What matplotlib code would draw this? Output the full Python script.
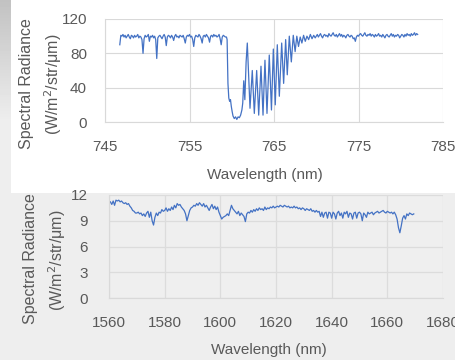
import numpy as np
import matplotlib
matplotlib.use("Agg")
import matplotlib.pyplot as plt
from matplotlib.patches import Rectangle

# ---------------- O2 A-band spectrum (upper panel) ----------------
# continuum left of the band, sampled every 0.125 nm from 746.75 nm
a_left_start = 746.75
a_left_vals = [
    90, 101, 100, 102, 99, 101, 98, 100, 102, 99,
    97, 101, 100, 98, 101, 99, 100, 102, 98, 100,
    99, 96, 80, 97, 101, 99, 100, 102, 94, 100,
    99, 101, 98, 100, 96, 74, 98, 100, 101, 99,
    97, 100, 102, 99, 89, 99, 101, 100, 98, 101,
    99, 95, 100, 102, 99, 100, 98, 101, 100, 99,
    101, 97, 92, 99, 101, 100, 102, 99, 100, 96,
    88, 98, 101, 100, 99, 102, 100, 97, 92, 100,
    101, 99, 102, 100, 98, 93, 100, 101, 99, 102,
    100, 101, 99, 100, 102, 97, 90, 99, 101, 100,
    99,
]

# absorption band itself (wavelength, radiance)
a_band_wl = [
    759.375, 759.45, 759.55, 759.65, 759.75, 759.85, 759.95, 760.05, 760.15,
    760.3, 760.45, 760.6, 760.75, 760.9, 761.05, 761.2, 761.3, 761.42, 761.55,
    761.7, 761.84, 762.0, 762.16, 762.43, 762.67, 762.95, 763.19, 763.46,
    763.70, 763.93, 764.17, 764.44, 764.70, 764.92, 765.15, 765.39, 765.63,
    765.91, 766.14, 766.38, 766.57, 766.81, 767.05, 767.28, 767.5, 767.7,
    767.9, 768.1, 768.3, 768.5, 768.7, 768.9, 769.1, 769.3, 769.5, 769.7,
    769.875,
]
a_band_vals = [
    99, 96, 45, 28, 24, 26, 18, 12, 7,
    4, 6, 3, 6, 5, 8, 14, 22, 48, 26,
    70, 92, 55, 16, 60, 10, 60, 8, 65,
    8, 72, 10, 78, 14, 85, 20, 90, 30,
    92, 45, 96, 55, 100, 70, 101, 82, 100,
    88, 99, 92, 101, 94, 100, 96, 102, 97, 101,
    98,
]

# continuum right of the band, every 0.125 nm from 770.0 nm
a_right_start = 770.0
a_right_vals = [
    100, 102, 99, 101, 103, 100, 98, 101, 102, 100,
    101, 99, 103, 101, 100, 102, 104, 101, 100, 102,
    99, 101, 103, 100, 102, 99, 101, 100, 98, 101,
    102, 100, 99, 101, 100, 97, 98, 94, 99, 101,
    100, 102, 103, 101, 100, 102, 104, 101, 100, 102,
    101, 103, 100, 102, 101, 99, 102, 100, 101, 103,
    100, 101, 99, 102, 100, 98, 101, 102, 100, 99,
    101, 103, 100, 102, 99, 101, 100, 102, 101, 98,
    100, 102, 101, 99, 102, 100, 103, 101, 102, 100,
    103, 101, 102, 104, 101, 103, 102,
]

a_xticks = [745, 755, 765, 775, 785]
a_yticks = [0, 40, 80, 120]

# ---------------- 1.6 um band spectrum (lower panel) ----------------
b_start = 1560.5   # sampled every 0.5 nm
b_vals = [
    11.2, 10.9, 11.3, 10.8, 11.4, 11.3, 11.4, 11.2, 11.3, 11.1,
    11.0, 11.1, 10.9, 11.0, 10.7, 10.5, 10.2, 10.1, 9.9, 9.9,
    10.0, 9.8, 9.9, 9.6, 9.8, 9.5, 9.9, 10.1, 9.4, 10.0,
    9.0, 8.5, 9.4, 9.9, 9.6, 10.0, 9.9, 10.3, 10.1, 10.2,
    10.5, 10.1, 10.4, 10.2, 10.6, 10.3, 10.8, 10.5, 11.0, 10.8,
    10.9, 10.6, 10.4, 10.2, 9.8, 9.0, 9.6, 10.2, 10.5, 10.6,
    10.8, 10.7, 11.0, 10.8, 11.1, 10.9, 10.7, 11.0, 10.6, 10.8,
    10.5, 10.2, 10.6, 10.9, 10.4, 10.7, 10.3, 10.6, 10.0, 9.6,
    9.2, 9.4, 9.5, 9.6, 9.8, 9.6, 10.2, 10.8, 10.4, 10.2,
    10.0, 9.8, 10.1, 9.6, 9.9, 9.7, 9.5, 8.9, 9.8, 10.0,
    9.9, 10.2, 10.0, 10.3, 10.1, 10.4, 10.2, 10.5, 10.3, 10.4,
    10.2, 10.6, 10.3, 10.5, 10.4, 10.6, 10.5, 10.7, 10.5, 10.6,
    10.7, 10.6, 10.8, 10.7, 10.6, 10.8, 10.7, 10.6, 10.7, 10.5,
    10.6, 10.5, 10.7, 10.5, 10.6, 10.4, 10.5, 10.3, 10.5, 10.4,
    10.2, 10.4, 10.3, 10.2, 10.4, 10.1, 10.2, 10.0, 10.2, 10.0,
    10.1, 9.5, 10.0, 9.4, 9.9, 10.0, 9.3, 10.0, 9.9, 9.3,
    10.0, 9.8, 9.2, 9.9, 10.1, 9.6, 9.9, 9.3, 10.0, 9.8,
    10.1, 9.4, 9.9, 9.8, 9.2, 9.9, 10.0, 9.3, 9.9, 10.0,
    9.8, 9.0, 9.9, 9.7, 9.4, 10.0, 9.8, 9.9, 10.0, 9.7,
    9.9, 10.0, 10.1, 9.9, 10.0, 10.1, 10.2, 10.0, 9.9, 10.1,
    10.0, 9.9, 10.0, 9.8, 10.0, 9.7, 9.2, 8.2, 7.6, 8.4,
    9.3, 9.6, 9.2, 9.8, 9.6, 9.9, 9.8, 9.7, 9.8,
]
b_xticks = [1560, 1580, 1600, 1620, 1640, 1660, 1680]
b_yticks = [0, 3, 6, 9, 12]

# ------------------------------------------------------------------
W, H = 456, 360
LINE = "#4472C4"
TXT = "#595959"
GRID = "#d9d9d9"
FONT = "Liberation Sans"
plt.rcParams["font.family"] = [FONT, "DejaVu Sans"]

fig = plt.figure(figsize=(W / 100, H / 100), dpi=100, facecolor="#eeeeee")

# page background: white card on top, grey strip at the far left
bg = fig.add_axes([0, 0, 1, 1], zorder=-10)
bg.set_xlim(0, W)
bg.set_ylim(H, 0)
bg.axis("off")
grad = np.linspace(0.76, 0.93, 120).reshape(-1, 1)
grad = np.vstack([grad, np.full((73, 1), 0.93)])
bg.imshow(grad, cmap="gray", vmin=0, vmax=1, extent=(0, 11, 193, 0), aspect="auto")
bg.add_patch(Rectangle((11, 0), W - 11, 193, color="white", lw=0))


def px_axes(left, top, right, bottom):
    return fig.add_axes([left / W, 1 - bottom / H, (right - left) / W, (bottom - top) / H])


def style(ax, face):
    ax.set_facecolor(face)
    for s in ("top", "right"):
        ax.spines[s].set_visible(False)
    for s in ("left", "bottom"):
        ax.spines[s].set_color(GRID)
        ax.spines[s].set_linewidth(0.8)
    ax.grid(True, color=GRID, lw=0.8)
    ax.set_axisbelow(True)
    ax.tick_params(length=0, labelsize=11, labelcolor=TXT)
    for lab in ax.get_xticklabels() + ax.get_yticklabels():
        lab.set_fontfamily(FONT)


# upper panel
a_wl = np.concatenate([
    a_left_start + 0.125 * np.arange(len(a_left_vals)),
    np.array(a_band_wl),
    a_right_start + 0.125 * np.arange(len(a_right_vals)),
])
a_val = np.concatenate([a_left_vals, a_band_vals, a_right_vals])

ax1 = px_axes(105, 19, 443, 122)
ax1.plot(a_wl, a_val, color=LINE, lw=0.9)
ax1.set_xlim(745, 785)
ax1.set_ylim(0, 120)
ax1.set_xticks(a_xticks)
ax1.set_yticks(a_yticks)
style(ax1, "white")
ax1.tick_params(axis="x", pad=13)
ax1.tick_params(axis="y", pad=13)

# lower panel
b_wl = b_start + 0.5 * np.arange(len(b_vals))
ax2 = px_axes(109, 195, 443, 298)
ax2.plot(b_wl, b_vals, color=LINE, lw=0.9)
ax2.set_xlim(1560, 1680)
ax2.set_ylim(0, 12)
ax2.set_xticks(b_xticks)
ax2.set_yticks(b_yticks)
style(ax2, "#efefef")
ax2.grid(True, color="#dcdcdc", lw=0.9)
ax2.tick_params(axis="x", pad=13)
ax2.tick_params(axis="y", pad=15)


def ftext(x, y, s, **kw):
    fig.text(x / W, 1 - y / H, s, color=TXT, family=FONT, ha="center", va="center", **kw)


# axis titles
ftext(265, 175, "Wavelength (nm)", fontsize=11)
ftext(27, 84, "Spectral Radiance", fontsize=11.5, rotation=90)
ftext(53, 84, "(W/m$^2$/str/\u03bcm)", fontsize=11.5, rotation=90)

ftext(269, 350, "Wavelength (nm)", fontsize=11)
ftext(31, 259, "Spectral Radiance", fontsize=11.5, rotation=90)
ftext(57, 260, "(W/m$^2$/str/\u03bcm)", fontsize=11.5, rotation=90)

fig.savefig("out.png", dpi=100, facecolor=fig.get_facecolor())
